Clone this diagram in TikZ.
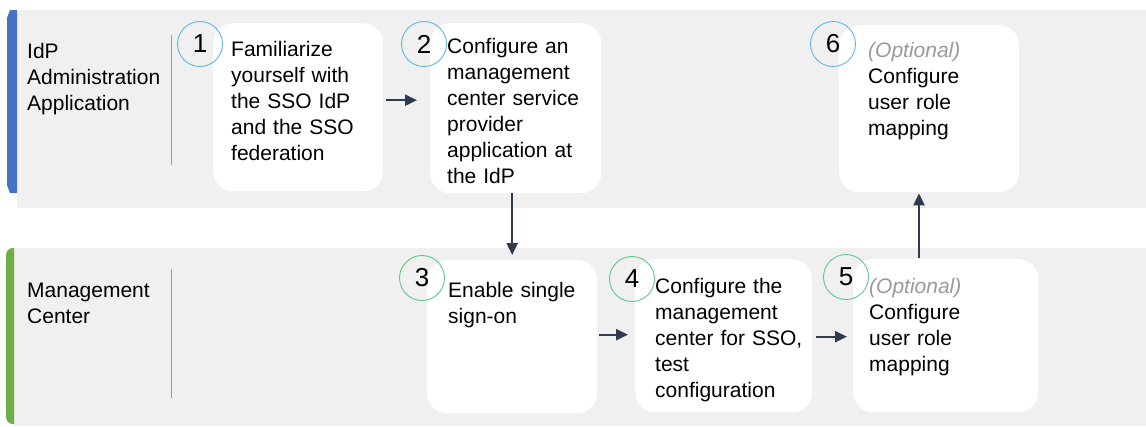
\documentclass[tikz,border=0pt]{standalone}
\usepackage{fontspec}
\setmainfont{Liberation Sans}
\usetikzlibrary{arrows.meta,calc}
\definecolor{band}{HTML}{F0F0F0}
\definecolor{laneblue}{HTML}{4472C4}
\definecolor{lanegreen}{HTML}{70AD47}
\definecolor{ringblue}{HTML}{5BB8E6}
\definecolor{ringgreen}{HTML}{5FC886}
\definecolor{arrowc}{HTML}{2F3A4C}
\definecolor{sepc}{HTML}{9A9A9A}
\definecolor{optgray}{HTML}{9A9A9A}
\begin{document}
\begin{tikzpicture}[x=1pt,y=-1pt,
  box/.style={fill=white, rounded corners=20pt, draw=none, inner sep=0pt, anchor=north west},
  numb/.style={circle, draw=#1, line width=0.9pt, minimum size=45pt, inner sep=0pt, font=\fontsize{26}{26}\selectfont},
  txt/.style={align=left, text width=165pt, inner sep=0pt, anchor=base west, font=\fontsize{21}{26}\selectfont},
  lane/.style={align=left, text width=140pt, inner sep=0pt, anchor=base west, font=\fontsize{21}{26}\selectfont},
  arr/.style={draw=arrowc, line width=2.2pt, -{Triangle[length=12pt,width=11pt]}},
  sepline/.style={draw=sepc, line width=0.8pt}]
\useasboundingbox (0,0) rectangle (1146,426);
% bands
\fill[band] (17,10) rectangle (1146,208);
\fill[band] (14,248) rectangle (1146,426);
\fill[laneblue] (17,10) -- (10,10) -- (7,18) -- (7,185) -- (10,193) -- (17,193) -- cycle;
\fill[lanegreen] (14,248) [rounded corners=7pt]-- (6,248) -- (6,424) [sharp corners]-- (14,424) -- cycle;
\draw[sepline] (171,35) -- (171,165);
\draw[sepline] (171,269) -- (171,398);
% lane labels
\node[lane] (l1) at (27,58) {IdP\\Administration\\Application};
\node[lane] (l2) at (27,297) {Management\\Center};
% boxes
\node[box, minimum width=170pt, minimum height=168pt] (b1) at (213,23) {};
\node[box, minimum width=171pt, minimum height=170pt] (b2) at (430,23) {};
\node[box, minimum width=180pt, minimum height=167pt] (b6) at (839,25) {};
\node[box, minimum width=170pt, minimum height=153pt] (b3) at (427,260) {};
\node[box, minimum width=177pt, minimum height=153pt] (b4) at (635,259) {};
\node[box, minimum width=185pt, minimum height=153pt] (b5) at (853,259) {};
% texts
\node[txt] (t1) at (231,56) {Familiarize\\yourself with\\the SSO IdP\\and the SSO\\federation};
\node[txt] (t2) at (447,53) {Configure an\\management\\center service\\provider\\application at\\the IdP};
\node[txt] (t6) at (868,57) {{\color{optgray}\itshape (Optional)}\\Configure\\user role\\mapping};
\node[txt] (t3) at (448,297) {Enable single\\sign-on};
\node[txt] (t4) at (655,293) {Configure the\\management\\center for SSO,\\test\\configuration};
\node[txt] (t5) at (869,293) {{\color{optgray}\itshape (Optional)}\\Configure\\user role\\mapping};
% number rings
\node[numb=ringblue] (n1) at (200,44) {1};
\node[numb=ringblue] (n2) at (424,44) {2};
\node[numb=ringblue] (n6) at (833,44) {6};
\node[numb=ringgreen] (n3) at (422,278) {3};
\node[numb=ringgreen] (n4) at (632,279) {4};
\node[numb=ringgreen] (n5) at (846,277) {5};
% arrows
\draw[arr] ($(b1.east)+(3,-7)$) -- ($(b2.west)+(-13,-8)$);
\draw[arr] (b2.south -| b3.north) -- ([yshift=5pt]b3.north);
\draw[arr] ($(b3.east)+(2,-2)$) -- ($(b4.west)+(-7,-1)$);
\draw[arr] ($(b4.east)+(4,1)$) -- ($(b5.west)+(-6,1)$);
\draw[arr] ($(b5.north west)+(66,-1)$) -- ($(b6.south west)+(80,1)$);
\end{tikzpicture}
\end{document}
